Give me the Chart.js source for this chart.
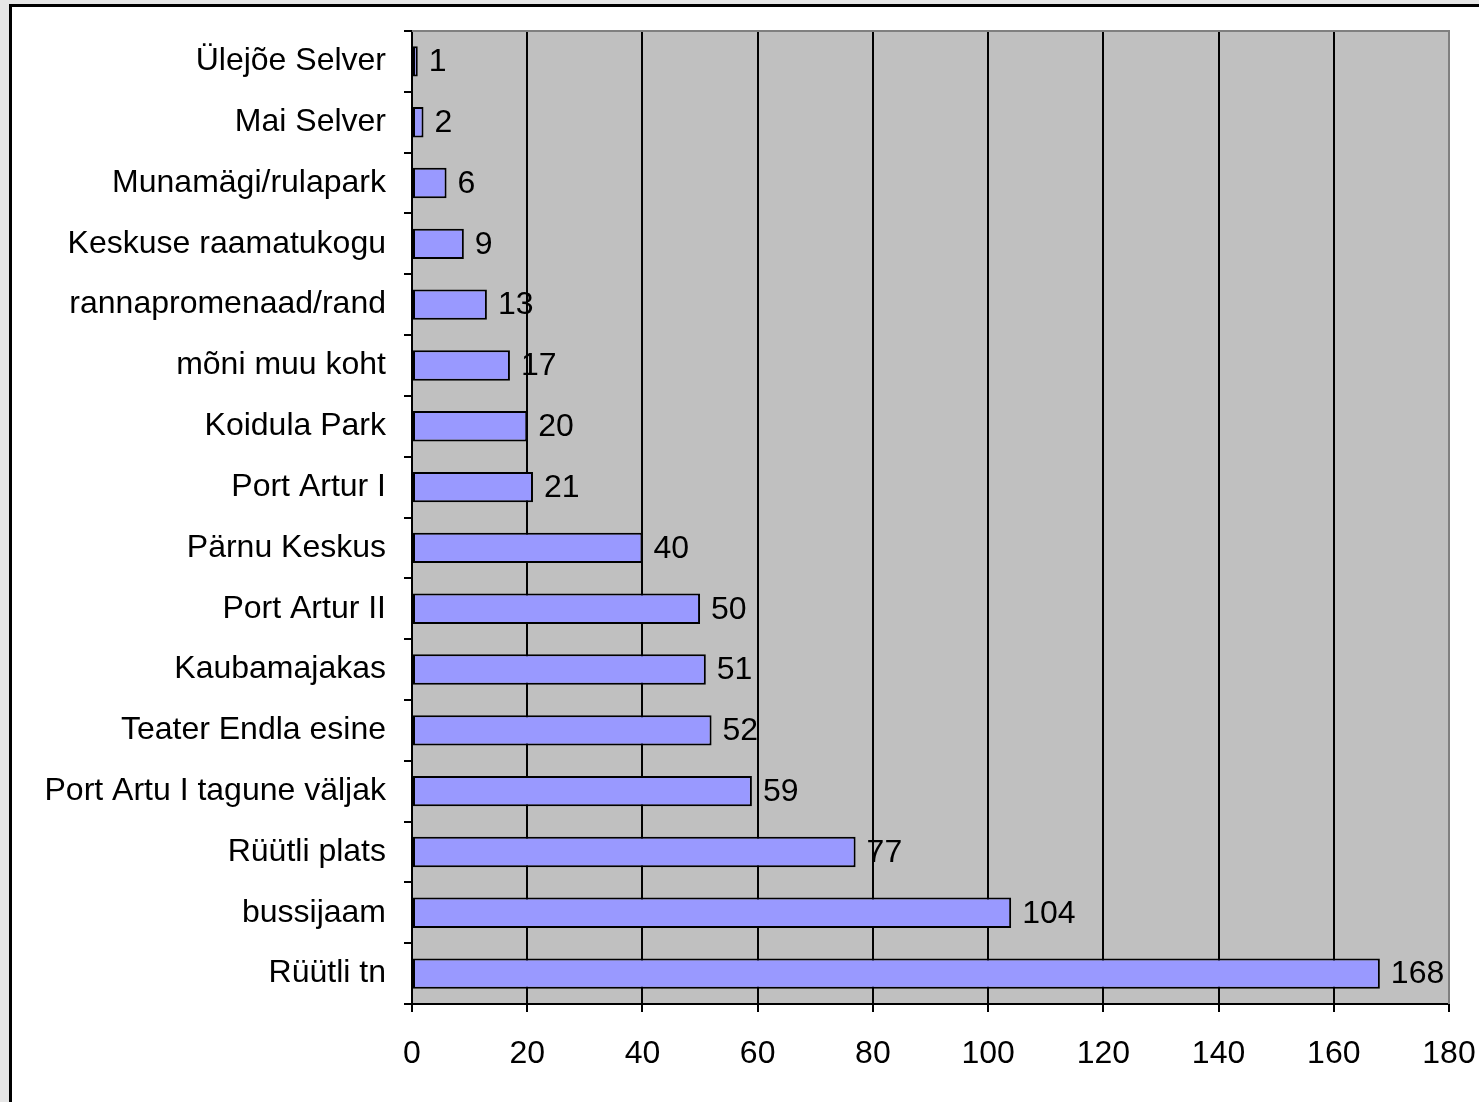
<!DOCTYPE html>
<html>
<head>
<meta charset="utf-8">
<script src="https://cdn.jsdelivr.net/npm/chart.js@4/dist/chart.umd.min.js"></script>
<style>
html,body{margin:0;padding:0;background:#e6e6e6;}
#wrap{position:absolute;left:0;top:0;width:1479px;height:1102px;}
</style>
</head>
<body>
<div id="wrap"><canvas id="c" width="1479" height="1102"></canvas></div>
<script>
const categories = ["Ülejõe Selver","Mai Selver","Munamägi/rulapark","Keskuse raamatukogu","rannapromenaad/rand","mõni muu koht","Koidula Park","Port Artur I","Pärnu Keskus","Port Artur II","Kaubamajakas","Teater Endla esine","Port Artu I tagune väljak","Rüütli plats","bussijaam","Rüütli tn"];
const values = [1,2,6,9,13,17,20,21,40,50,51,52,59,77,104,168];
const xTicks = [0,20,40,60,80,100,120,140,160,180];

const FONT = "'Liberation Sans', Arial, sans-serif";
const FSIZE = 32;

const framePlugin = {
  id: 'frame',
  beforeDraw(chart) {
    const ctx = chart.ctx;
    const a = chart.chartArea;
    ctx.save();
    ctx.fillStyle = '#e6e6e6';
    ctx.fillRect(0, 0, chart.width, chart.height);
    ctx.fillStyle = '#ffffff';
    ctx.fillRect(9, 5, chart.width, chart.height);
    ctx.strokeStyle = '#000000';
    ctx.lineWidth = 3;
    ctx.beginPath();
    ctx.moveTo(10.5, chart.height + 5);
    ctx.lineTo(10.5, 5.5);
    ctx.lineTo(chart.width + 5, 5.5);
    ctx.stroke();
    ctx.fillStyle = '#c0c0c0';
    ctx.fillRect(a.left, a.top, a.right - a.left, a.bottom - a.top);
    ctx.restore();
  },
  afterDatasetsDraw(chart) {
    const ctx = chart.ctx;
    const a = chart.chartArea;
    ctx.save();
    ctx.strokeStyle = '#808080';
    ctx.lineWidth = 2;
    ctx.beginPath();
    ctx.moveTo(a.left, a.top);
    ctx.lineTo(a.right, a.top);
    ctx.lineTo(a.right, a.bottom);
    ctx.stroke();
    // data labels
    const meta = chart.getDatasetMeta(0);
    ctx.fillStyle = '#000';
    ctx.font = FSIZE + 'px ' + FONT;
    ctx.textBaseline = 'middle';
    ctx.textAlign = 'left';
    meta.data.forEach((bar, i) => {
      ctx.fillText(String(values[i]), bar.x + 11, bar.y + 1);
    });
    ctx.restore();
  }
};

new Chart(document.getElementById('c'), {
  type: 'bar',
  data: {
    labels: categories,
    datasets: [{
      data: values,
      backgroundColor: '#9999ff',
      borderColor: '#000000',
      borderWidth: 2,
      borderSkipped: false,
      categoryPercentage: 1.0,
      barPercentage: 0.5
    }]
  },
  options: {
    indexAxis: 'y',
    responsive: false,
    animation: false,
    devicePixelRatio: 1,
    layout: { padding: { left: 0, top: 31, right: 30, bottom: 0 } },
    plugins: { legend: { display: false }, tooltip: { enabled: false } },
    scales: {
      x: {
        type: 'linear',
        min: 0,
        max: 180,
        afterBuildTicks(scale) { scale.ticks = xTicks.map(v => ({ value: v })); },
        afterFit(scale) { scale.height = 98; scale.paddingLeft = 0; scale.paddingRight = 0; },
        grid: {
          color: ctx => (ctx.index === xTicks.length - 1 ? '#808080' : '#000000'),
          tickColor: '#000000',
          lineWidth: 2,
          tickLength: 8,
          drawTicks: true
        },
        border: { color: '#000000', width: 2 },
        ticks: { color: '#000', font: { family: FONT, size: FSIZE }, padding: 23, maxRotation: 0, autoSkip: false }
      },
      y: {
        afterFit(scale) { scale.width = 412; scale.paddingTop = 0; scale.paddingBottom = 0; },
        grid: {
          offset: true,
          drawOnChartArea: false,
          drawTicks: true,
          tickLength: 8,
          tickColor: '#000000',
          lineWidth: 2
        },
        border: { color: '#000000', width: 2 },
        ticks: { color: '#000', font: { family: FONT, size: FSIZE }, padding: 18, autoSkip: false }
      }
    }
  },
  plugins: [framePlugin]
});
</script>
</body>
</html>
